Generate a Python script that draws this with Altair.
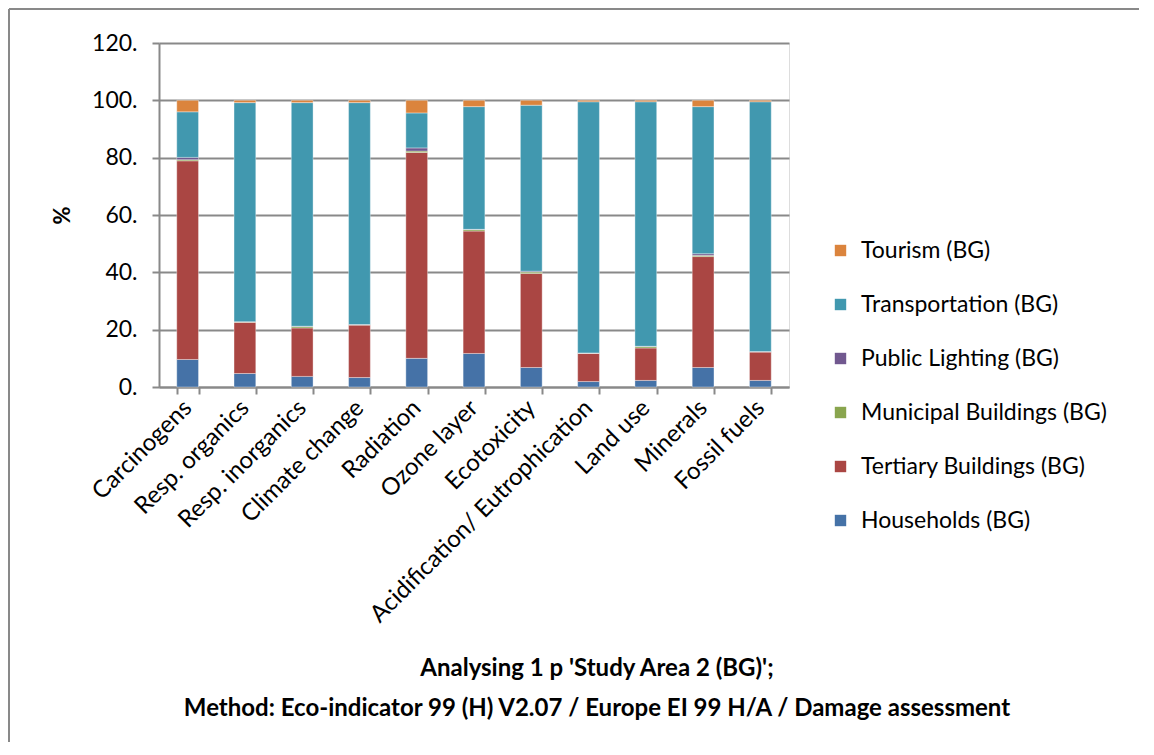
import altair as alt
import pandas as pd

categories = ["Carcinogens", "Resp. organics", "Resp. inorganics", "Climate change",
              "Radiation", "Ozone layer", "Ecotoxicity", "Acidification/ Eutrophication",
              "Land use", "Minerals", "Fossil fuels"]

series = ["Households (BG)", "Tertiary Buildings (BG)", "Municipal Buildings (BG)",
          "Public Lighting (BG)", "Transportation (BG)", "Tourism (BG)"]

households    = [9.6, 4.7, 3.7, 3.3, 10.0, 11.7, 6.8, 1.9, 2.3, 6.8, 2.3]
tertiary      = [69.3, 17.9, 16.9, 18.3, 71.8, 42.7, 32.8, 9.8, 11.3, 38.7, 9.9]
municipal     = [0.4, 0.1, 0.5, 0.1, 0.5, 0.5, 0.5, 0.1, 0.5, 0.4, 0.1]
public_light  = [0.8, 0.1, 0.1, 0.1, 1.1, 0.1, 0.3, 0.1, 0.1, 0.6, 0.1]
transport     = [15.9, 76.4, 78.0, 77.4, 12.2, 42.8, 57.9, 87.6, 85.3, 51.3, 87.1]
tourism       = [4.0, 0.8, 0.8, 0.8, 4.4, 2.2, 1.7, 0.5, 0.5, 2.2, 0.5]

colors = ["#4572A7", "#AA4643", "#89A54E", "#71588F", "#4198AF", "#DB843D"]

values = [households, tertiary, municipal, public_light, transport, tourism]
rows = []
for si, (name, vals) in enumerate(zip(series, values)):
    for c, v in zip(categories, vals):
        rows.append({"category": c, "series": name, "value": v, "idx": si})
df = pd.DataFrame(rows)

FONT = "Lato"
GRID = "#898989"

legend_order = list(reversed(series))
legend_colors = list(reversed(colors))

bars = alt.Chart(df).mark_bar(stroke="#ffffff", strokeWidth=0.6, strokeOpacity=0.6).encode(
    x=alt.X("category:N", sort=categories, title=None,
            scale=alt.Scale(paddingInner=0.62, paddingOuter=0.31),
            axis=alt.Axis(labelAngle=-45, labelAlign="right", labelBaseline="middle",
                          labelFontSize=24, labelFont=FONT, labelColor="#000000",
                          labelPadding=10, tickBand="extent", ticks=True, tickSize=7,
                          tickColor=GRID, tickWidth=2, domainColor=GRID, domainWidth=2,
                          grid=False, labelLimit=500)),
    y=alt.Y("value:Q", stack="zero", title="%",
            scale=alt.Scale(domain=[0, 120], nice=False),
            axis=alt.Axis(values=[0, 20, 40, 60, 80, 100, 120],
                          labelExpr="datum.value + '.'",
                          labelFontSize=23, labelFont=FONT, labelColor="#000000",
                          labelPadding=15, tickSize=7, tickColor=GRID, tickWidth=2,
                          domainColor=GRID, domainWidth=2,
                          grid=True, gridColor=GRID, gridWidth=2,
                          titleFont=FONT, titleFontSize=22, titleFontWeight="bold",
                          titleColor="#000000", titleX=-85, titleY=172, titleAngle=270)),
    color=alt.Color("series:N",
                    scale=alt.Scale(domain=legend_order, range=legend_colors),
                    legend=alt.Legend(title=None, orient="none", legendX=670, legendY=196,
                                      symbolType="square", symbolSize=130,
                                      symbolStrokeWidth=0, labelFontSize=23,
                                      labelFont=FONT, labelColor="#000000",
                                      rowPadding=30, labelOffset=9, labelLimit=500)),
    order=alt.Order("idx:Q", sort="ascending"),
)

frame_data = alt.Data(values=[{"a": 1}])
top_rule = alt.Chart(frame_data).mark_rule(color=GRID, strokeWidth=2).encode(
    x=alt.value(-150), x2=alt.value(990), y=alt.value(-34))
left_rule = alt.Chart(frame_data).mark_rule(color=GRID, strokeWidth=2).encode(
    x=alt.value(-150), y=alt.value(-34), y2=alt.value(710))

chart = alt.layer(bars, top_rule, left_rule).properties(
    width=630, height=344,
    padding={"left": 151, "top": 35, "right": 350, "bottom": 355},
    autosize=alt.AutoSizeParams(type="none"),
    title=alt.TitleParams(
        text=["Analysing 1 p 'Study Area 2 (BG)';",
              "Method: Eco-indicator 99 (H) V2.07 /  Europe EI 99 H/A / Damage assessment"],
        orient="bottom", anchor="middle", frame="group", dx=123, offset=-97,
        font=FONT, fontSize=24, fontWeight="bold", color="#000000", lineHeight=40),
).configure_view(stroke=None).configure(background="#ffffff")

chart.save("out.html", embed_options={"renderer": "svg", "actions": False})
